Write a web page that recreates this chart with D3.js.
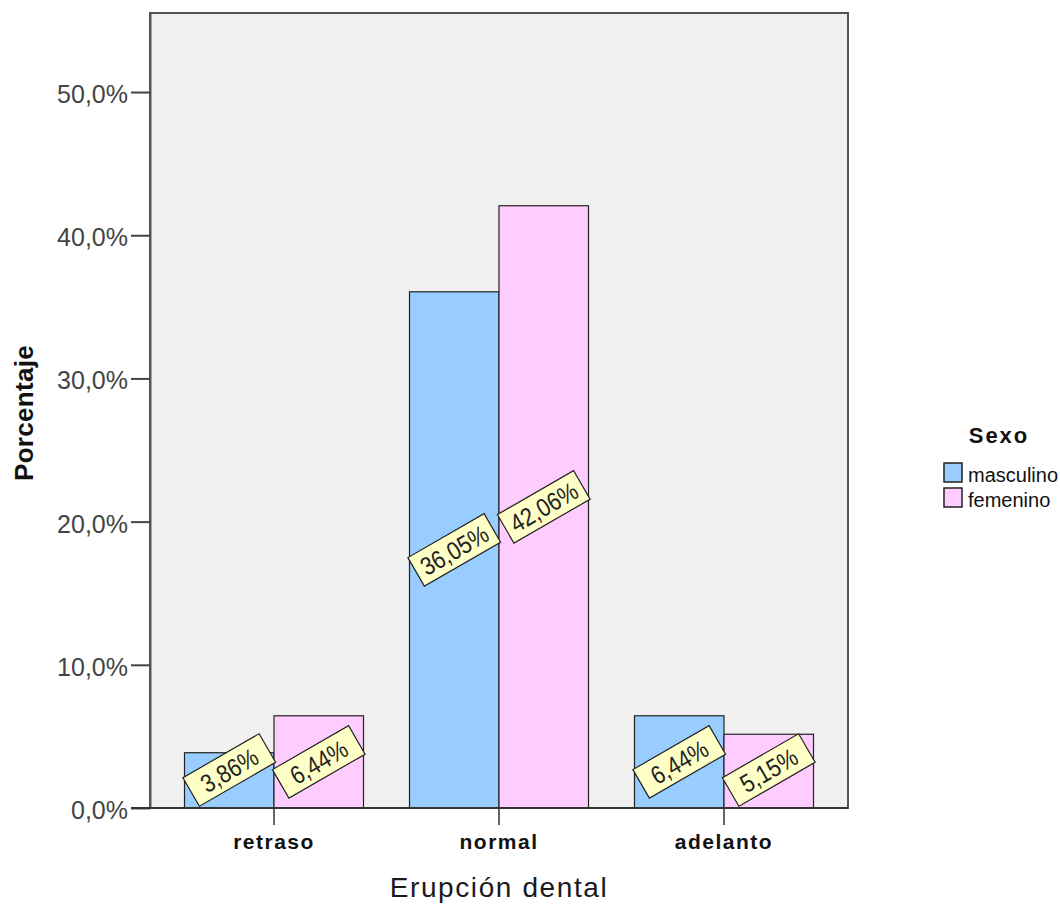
<!DOCTYPE html>
<html><head><meta charset="utf-8">
<script src="https://cdn.jsdelivr.net/npm/d3@7"></script>
<style>body{margin:0;background:#fff}svg{display:block}</style>
</head><body>
<script>
const categories = ["retraso", "normal", "adelanto"];
const seriesNames = ["masculino", "femenino"];
const masculino = [3.86, 36.05, 6.44];
const femenino = [6.44, 42.06, 5.15];
const yTicks = [0, 10, 20, 30, 40, 50];
const seriesValues = [masculino, femenino];
const colors = ["#99ccff", "#ffccff"];

const W = 1060, H = 905;
const svg = d3.select("body").append("svg").attr("width", W).attr("height", H);
const pL = 150, pR = 848, pT = 13, pB = 808;
const FONT = "Liberation Sans, Arial, sans-serif";

const y = d3.scaleLinear().domain([0, 55.52]).range([pB, pT]);
const x = d3.scaleBand().domain(categories).range([161.5, 836.5]).paddingInner(0.2044).paddingOuter(0.1022);
const xs = d3.scaleBand().domain(seriesNames).range([0, x.bandwidth()]);

svg.append("rect").attr("x", pL).attr("y", pT).attr("width", pR - pL).attr("height", pB - pT)
  .attr("fill", "#f0f0f0");

// bars
const groups = svg.append("g").selectAll("g").data(categories).join("g")
  .attr("transform", d => `translate(${x(d)},0)`);
groups.selectAll("rect").data((c, i) => seriesNames.map((s, j) => ({s, v: seriesValues[j][i], j})))
  .join("rect")
  .attr("x", d => xs(d.s)).attr("width", xs.bandwidth())
  .attr("y", d => y(d.v)).attr("height", d => y(0) - y(d.v))
  .attr("fill", d => colors[d.j]).attr("stroke", "#222").attr("stroke-width", 1.2);

// frame
svg.append("rect").attr("x", pL).attr("y", pT).attr("width", pR - pL).attr("height", pB - pT)
  .attr("fill", "none").attr("stroke", "#555").attr("stroke-width", 2);

// y axis
const yAxis = svg.append("g").attr("transform", `translate(${pL},0)`)
  .call(d3.axisLeft(y).tickValues(yTicks).tickSize(19).tickSizeOuter(0).tickPadding(3)
    .tickFormat(d => d3.format(".1f")(d).replace(".", ",") + "%"));
yAxis.select(".domain").attr("stroke", "#555").attr("stroke-width", 2);
yAxis.selectAll(".tick line").attr("stroke", "#444").attr("stroke-width", 2);
yAxis.selectAll(".tick text").attr("font-family", FONT)
  .attr("font-size", 25).attr("fill", "#444").attr("dy", "0.42em");

// x axis
const xAxis = svg.append("g").attr("transform", `translate(0,${pB})`)
  .call(d3.axisBottom(x).tickSize(17).tickSizeOuter(0).tickPadding(9));
xAxis.select(".domain").remove();
xAxis.selectAll(".tick line").attr("stroke", "#333").attr("stroke-width", 1.5);
xAxis.selectAll(".tick text").attr("font-family", FONT).attr("font-weight", "bold")
  .attr("font-size", 21).attr("fill", "#111").attr("letter-spacing", 1.5);
svg.append("line").attr("x1", pL - 19).attr("x2", pR).attr("y1", pB).attr("y2", pB)
  .attr("stroke", "#333").attr("stroke-width", 2);

// labels
const lab = svg.append("g");
categories.forEach((c, i) => {
  seriesNames.forEach((s, j) => {
    const v = seriesValues[j][i];
    const cx = x(c) + xs(s) + xs.bandwidth() / 2;
    const cy = Math.min(y(v / 2), y(0) - 38);
    const g = lab.append("g").attr("transform", `translate(${cx},${cy}) rotate(-30)`);
    const txt = d3.format(".2f")(v).replace(".", ",") + "%";
    g.append("rect").attr("x", -44).attr("y", -16.5).attr("width", 88).attr("height", 33)
      .attr("fill", "#ffffc8").attr("stroke", "#222").attr("stroke-width", 1.2);
    g.append("text").attr("text-anchor", "middle").attr("dy", "0.36em")
      .attr("transform", "scale(0.95,1.1)")
      .attr("font-family", FONT)
      .attr("font-size", 23).attr("fill", "#222").text(txt);
  });
});

// axis titles
svg.append("text").attr("x", 499).attr("y", 897).attr("text-anchor", "middle")
  .attr("font-family", FONT).attr("font-size", 28).attr("fill", "#1a1a1a").attr("letter-spacing", 1.6)
  .text("Erupción dental");
svg.append("text").attr("transform", "translate(33,413) rotate(-90)").attr("text-anchor", "middle")
  .attr("font-family", FONT).attr("font-weight", "bold").attr("font-size", 26).attr("fill", "#111")
  .attr("letter-spacing", 0.3)
  .text("Porcentaje");

// legend
svg.append("text").attr("x", 999).attr("y", 443).attr("text-anchor", "middle")
  .attr("font-family", FONT).attr("font-weight", "bold").attr("font-size", 22).attr("fill", "#111")
  .attr("letter-spacing", 2)
  .text("Sexo");
const leg = svg.append("g").selectAll("g").data(seriesNames).join("g")
  .attr("transform", (d, i) => `translate(944,${463 + i * 25})`);
leg.append("rect").attr("width", 18).attr("height", 19).attr("fill", (d, i) => colors[i])
  .attr("stroke", "#222").attr("stroke-width", 1.5);
leg.append("text").attr("x", 24).attr("y", 18.5)
  .attr("font-family", FONT).attr("font-size", 20).attr("fill", "#111")
  .text(d => d);
</script>
</body></html>
